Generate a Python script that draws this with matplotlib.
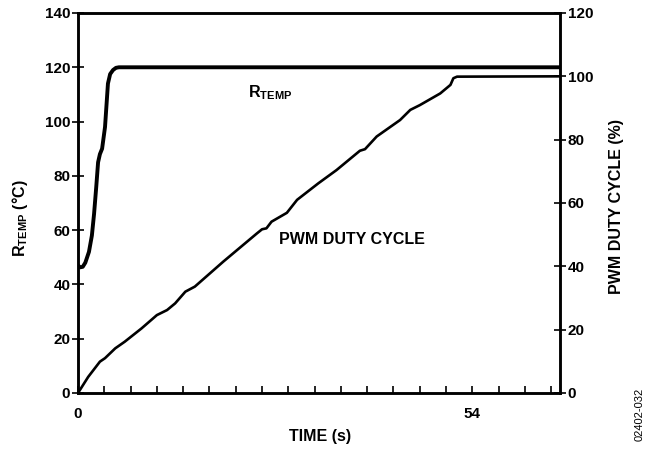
import matplotlib
matplotlib.use("Agg")
import matplotlib.pyplot as plt
import numpy as np

plt.rcParams['font.family'] = ['Liberation Sans', 'DejaVu Sans']
plt.rcParams['mathtext.fontset'] = 'custom'
plt.rcParams['mathtext.rm'] = 'Liberation Sans:bold'
plt.rcParams['mathtext.bf'] = 'Liberation Sans:bold'

# R_TEMP (left axis, °C)
rtemp_t = [0, 0.3, 0.65, 1.0, 1.5, 1.9, 2.2, 2.5, 2.75, 3.0, 3.3, 3.7, 4.1, 4.4, 4.8, 5.2, 5.6, 66]
rtemp_v = [47, 46.3, 46.5, 48, 52, 58, 66, 76, 85, 88, 90, 98, 114, 117.5, 119, 119.8, 120, 120]

# PWM duty cycle (right axis, %)
pwm_t = [0, 1.4, 3.0, 3.7, 5.1, 6.4, 8.7, 10.8, 12.2, 13.3, 14.7, 16.0, 19.9, 24.5, 25.2, 25.8,
         26.5, 28.6, 30.0, 32.9, 35.4, 38.6, 39.3, 40.9, 44.1, 45.5, 46.8, 49.6, 51.0, 51.4, 51.9, 66]
pwm_v = [0, 5.1, 9.9, 11.0, 14.1, 16.2, 20.4, 24.6, 26.2, 28.3, 32.0, 33.6, 41.5, 50.4, 51.7, 52.0,
         54.1, 56.9, 61.0, 66.2, 70.4, 76.5, 77.0, 81.0, 86.2, 89.4, 90.9, 94.6, 97.3, 99.4, 99.9, 100]

x_ticks = [3.6 * i for i in range(19)]
x_ticklabels = ['0' if i == 0 else ('54' if i == 15 else '') for i in range(19)]
left_ticks = [0, 20, 40, 60, 80, 100, 120, 140]
right_ticks = [0, 20, 40, 60, 80, 100, 120]

fig = plt.figure(figsize=(6.48, 4.53), dpi=100)
ax = fig.add_axes([78/648, 1-393/453, (560-78)/648, (393-13)/453])
ax2 = ax.twinx()

ax.plot(rtemp_t, rtemp_v, color='black', lw=2.8, solid_joinstyle='round', solid_capstyle='butt')
ax2.plot(pwm_t, pwm_v, color='black', lw=1.9, solid_joinstyle='round')

ax.set_xlim(0, 66)
ax.set_ylim(0, 140)
ax2.set_ylim(0, 120)

TF = 11
LF = 11.5
ax.set_xticks(x_ticks)
ax.set_xticklabels(x_ticklabels, fontsize=TF, fontweight='bold')
ax.set_yticks(left_ticks)
ax.set_yticklabels([str(v) for v in left_ticks], fontsize=TF, fontweight='bold')
ax2.set_yticks(right_ticks)
ax2.set_yticklabels([str(v) for v in right_ticks], fontsize=TF, fontweight='bold')

ax.tick_params(axis='x', direction='in', length=5, width=1.2, pad=10)
ax.tick_params(axis='y', direction='inout', length=9, width=1.2, pad=1)
ax2.tick_params(axis='y', direction='inout', length=9, width=1.2, pad=1)

for a in (ax, ax2):
    for s in a.spines.values():
        s.set_linewidth(1.8)

fig.text(320/648, 1-437/453, 'TIME (s)', ha='center', va='center', fontsize=LF, fontweight='bold')

fig.text(20/648, 1-218/453, r'R$_{\mathrm{TEMP}}$ (°C)', rotation=90, ha='center', va='center',
         fontsize=LF, fontweight='bold')
fig.text(617/648, 1-207/453, 'PWM DUTY CYCLE (%)', rotation=90, ha='center', va='center',
         fontsize=LF, fontweight='bold')

ax.text(26.3, 110.5, r'R$_{\mathrm{TEMP}}$', ha='center', va='center', fontsize=LF, fontweight='bold')
ax.text(37.5, 56.4, 'PWM DUTY CYCLE', ha='center', va='center', fontsize=LF, fontweight='bold')

fig.text(640/648, 1-414/453, '02402-032', rotation=90, ha='center', va='center', fontsize=8)

fig.savefig('out.png', dpi=100)
